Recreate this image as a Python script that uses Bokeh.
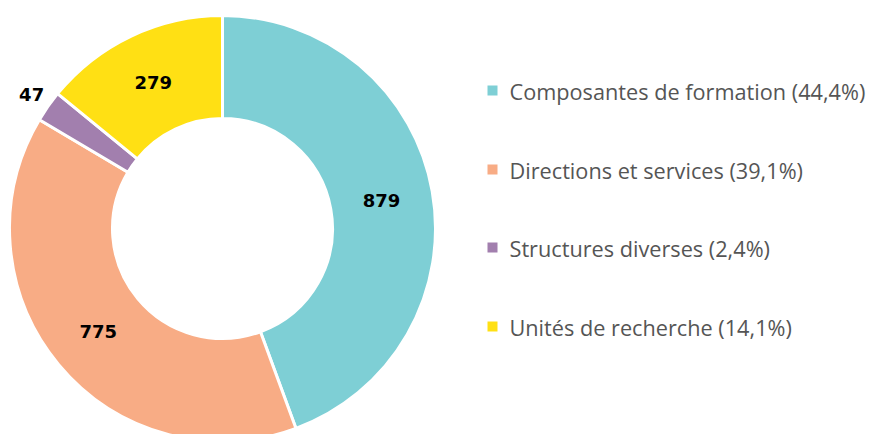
import math
from bokeh.plotting import figure
from bokeh.models import Range1d, ColumnDataSource
from bokeh.core.properties import value
from bokeh.embed import file_html
from bokeh.resources import INLINE

categories = ["Composantes de formation", "Directions et services", "Structures diverses", "Unités de recherche"]
counts = [879, 775, 47, 279]
percent_labels = ["44,4%", "39,1%", "2,4%", "14,1%"]
colors = ["#7ECFD5", "#F8AC85", "#A27FAE", "#FFE014"]

W, H = 872, 434
p = figure(width=W, height=H, output_backend="svg", toolbar_location=None,
           x_range=Range1d(0, W), y_range=Range1d(0, H), min_border=0)
p.axis.visible = False
p.grid.visible = False
p.outline_line_color = None

cx, cy = 222, H - 228
r_in, r_out = 110, 213
total = sum(counts)

starts, ends, lx, ly, ltxt = [], [], [], [], []
cum = 0.0
for i, c in enumerate(counts):
    a0 = math.pi / 2 - 2 * math.pi * cum / total
    a1 = math.pi / 2 - 2 * math.pi * (cum + c) / total
    starts.append(a0)
    ends.append(a1)
    mid = (a0 + a1) / 2
    frac = c / total
    r = (r_in + r_out) / 2 if frac > 0.05 else r_out + 20
    lx.append(cx + r * math.cos(mid))
    ly.append(cy + r * math.sin(mid))
    ltxt.append(str(c))
    cum += c

src = ColumnDataSource(dict(start=starts, end=ends, color=colors))
p.annular_wedge(x=cx, y=cy, inner_radius=r_in, outer_radius=r_out,
                start_angle="start", end_angle="end", direction="clock",
                fill_color="color", line_color="white", line_width=3, source=src)

p.text(x=lx, y=ly, text=ltxt, text_align="center", text_baseline="middle",
       text_font=value("DejaVu Sans"), text_font_style="bold", text_font_size="18px",
       text_color="black")

# legend
leg_x = 492
ys = [H - 90, H - 169, H - 247, H - 326]
p.rect(x=[leg_x] * 4, y=ys, width=10, height=10, fill_color=colors, line_color=None)
p.text(x=[leg_x + 17] * 4, y=[y - 1 for y in ys],
       text=[f"{c} ({pc})" for c, pc in zip(categories, percent_labels)],
       text_align="left", text_baseline="middle",
       text_font=value("Open Sans"), text_font_size="21.7px", text_color="#555555")

open("out.html", "w").write(file_html(p, INLINE))
